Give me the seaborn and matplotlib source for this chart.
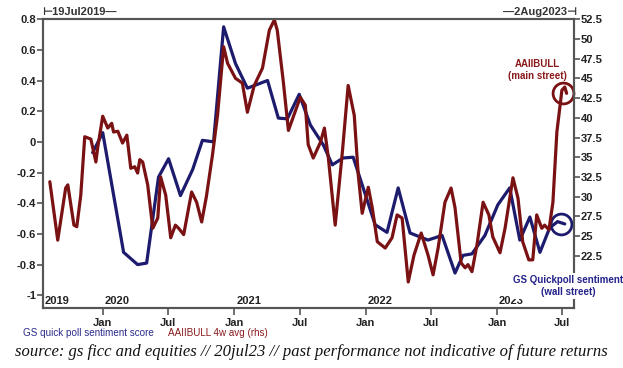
import numpy as np
import pandas as pd
import seaborn as sns
import matplotlib.pyplot as plt
import matplotlib.dates as mdates
import matplotlib.transforms as mtransforms

# GS quick poll sentiment score (lhs)
gs_dates = ['2019-12-04', '2020-01-01', '2020-02-28', '2020-04-07', '2020-05-02', '2020-06-04',
            '2020-07-02', '2020-08-04', '2020-09-07', '2020-10-04', '2020-11-04', '2020-12-02',
            '2021-01-04', '2021-02-06', '2021-04-03', '2021-05-03', '2021-05-28', '2021-06-30',
            '2021-07-31', '2021-09-05', '2021-09-30', '2021-10-30', '2021-11-27', '2022-01-27',
            '2022-03-01', '2022-04-01', '2022-05-04', '2022-06-23', '2022-08-01', '2022-09-06',
            '2022-09-28', '2022-10-23', '2022-11-28', '2023-01-03', '2023-02-05', '2023-03-05',
            '2023-04-02', '2023-04-30', '2023-05-27', '2023-06-18', '2023-07-08']
gs_score = [-0.07, 0.06, -0.72, -0.80, -0.79, -0.23,
            -0.11, -0.35, -0.18, 0.01, 0.00, 0.75,
            0.51, 0.35, 0.40, 0.155, 0.15, 0.31,
            0.11, -0.02, -0.15, -0.105, -0.10, -0.54,
            -0.59, -0.30, -0.594, -0.64, -0.61, -0.855,
            -0.74, -0.73, -0.61, -0.41, -0.30, -0.64,
            -0.49, -0.72, -0.56, -0.52, -0.535]

# AAIIBULL 4w avg (rhs)
aaii_dates = ['2019-08-07', '2019-08-29', '2019-09-20', '2019-09-26', '2019-10-13', '2019-10-21',
              '2019-11-01', '2019-11-12', '2019-11-29', '2019-12-13', '2019-12-18', '2020-01-01',
              '2020-01-15', '2020-01-26', '2020-01-31', '2020-02-12', '2020-02-25', '2020-03-08',
              '2020-03-19', '2020-03-30', '2020-04-07', '2020-04-13', '2020-04-21', '2020-05-05',
              '2020-05-19', '2020-06-02', '2020-06-10', '2020-06-24', '2020-07-08', '2020-07-21',
              '2020-07-30', '2020-08-13', '2020-09-04', '2020-09-18', '2020-10-02', '2020-10-15',
              '2020-11-01', '2020-11-15', '2020-12-02', '2020-12-13', '2021-01-04', '2021-01-23',
              '2021-02-06', '2021-02-25', '2021-03-20', '2021-04-08', '2021-04-22', '2021-04-30',
              '2021-05-17', '2021-05-31', '2021-06-22', '2021-07-03', '2021-07-17', '2021-07-25',
              '2021-08-08', '2021-08-28', '2021-09-08', '2021-09-19', '2021-10-08', '2021-10-28',
              '2021-11-13', '2021-11-30', '2021-12-11', '2021-12-22', '2022-01-08', '2022-01-19',
              '2022-02-02', '2022-02-24', '2022-03-15', '2022-03-29', '2022-04-12', '2022-04-29',
              '2022-05-15', '2022-06-04', '2022-06-23', '2022-07-07', '2022-07-21', '2022-08-09',
              '2022-08-26', '2022-09-06', '2022-09-23', '2022-10-04', '2022-10-12', '2022-10-23',
              '2022-11-06', '2022-11-23', '2022-12-09', '2022-12-20', '2023-01-09', '2023-01-23',
              '2023-02-14', '2023-02-28', '2023-03-13', '2023-03-30', '2023-04-10', '2023-04-21',
              '2023-05-05', '2023-05-13', '2023-05-25', '2023-06-05', '2023-06-16', '2023-06-30',
              '2023-07-08', '2023-07-13']
aaii_bull = [31.9, 24.5, 31.1, 31.5, 26.4, 26.2,
             30.2, 37.6, 37.3, 34.4, 36.2, 40.2,
             38.7, 39.3, 38.2, 38.3, 36.8, 37.8,
             33.6, 33.8, 33.0, 34.7, 34.4, 31.5,
             26.0, 27.3, 32.5, 30.2, 24.8, 26.4,
             26.0, 25.2, 30.6, 29.3, 26.8, 30.0,
             35.3, 40.3, 49.0, 46.9, 45.0, 44.4,
             40.7, 44.1, 46.3, 51.1, 52.4, 51.1,
             44.5, 38.4, 41.2, 42.6, 41.6, 36.6,
             34.9, 36.9, 38.7, 34.9, 26.4, 35.7,
             44.1, 40.3, 32.8, 27.9, 31.2, 28.6,
             24.3, 23.5, 24.8, 27.7, 27.3, 19.2,
             22.6, 25.4, 22.6, 20.1, 23.5, 29.3,
             31.1, 28.6, 21.6, 21.0, 21.4, 20.5,
             23.9, 29.3, 27.7, 24.9, 22.9, 26.0,
             32.4, 29.8, 24.3, 22.0, 22.0, 27.7,
             26.0, 26.4, 25.8, 29.3, 38.2, 43.5,
             43.9, 43.1]

left_ticks = [-1, -0.8, -0.6, -0.4, -0.2, 0, 0.2, 0.4, 0.6, 0.8]
right_ticks = [22.5, 25, 27.5, 30, 32.5, 35, 37.5, 40, 42.5, 45, 47.5, 50, 52.5]
year_labels = ['2019', '2020', '2021', '2022', '2023']

BLUE = '#1c1b6e'
RED = '#7a1214'
FONT = ['Liberation Sans', 'DejaVu Sans']

gs = pd.DataFrame({'date': pd.to_datetime(gs_dates), 'score': gs_score})
aaii = pd.DataFrame({'date': pd.to_datetime(aaii_dates), 'bull': aaii_bull})

sns.set_theme(style='white')
plt.rcParams['font.family'] = FONT

fig = plt.figure(figsize=(6.23, 3.68), dpi=100)
ax = fig.add_axes([0.069, 0.163, 0.852, 0.785])
ax2 = ax.twinx()

sns.lineplot(data=gs, x='date', y='score', ax=ax, color=BLUE, linewidth=2.3)
sns.lineplot(data=aaii, x='date', y='bull', ax=ax2, color=RED, linewidth=2.3)

x0, x1 = pd.Timestamp('2019-07-19'), pd.Timestamp('2023-08-02')
ax.set_xlim(x0, x1)
ax.set_ylim(-1.083, 0.8)
ax2.set_ylim(15.9, 52.5)

for a in (ax, ax2):
    a.set_xlabel('')
    a.set_ylabel('')
    for s in a.spines.values():
        s.set_color('#555555')
        s.set_linewidth(1.5)

ax.set_yticks(left_ticks)
ax.set_yticklabels([f'{t:g}' for t in left_ticks])
ax2.set_yticks(right_ticks)
ax2.set_yticklabels([f'{t:g}' for t in right_ticks])
ax.tick_params(axis='y', left=True, length=4, width=1.2, color='#555555', pad=1,
               labelsize=8, labelcolor='#222222')
ax2.tick_params(axis='y', right=True, length=4, width=1.2, color='#555555', pad=1,
                labelsize=8, labelcolor='#222222')
for lab in ax.get_yticklabels() + ax2.get_yticklabels():
    lab.set_fontweight('bold')

ax.xaxis.set_major_locator(mdates.MonthLocator(bymonth=[1, 7]))
ax.xaxis.set_major_formatter(mdates.DateFormatter('%b'))
ax.tick_params(axis='x', bottom=True, length=5, width=1.2, color='#555555', pad=2,
               labelsize=8, labelcolor='#222222')
for lab in ax.get_xticklabels():
    lab.set_fontweight('bold')

# year labels sitting inside the plot above the bottom axis
trans = mtransforms.blended_transform_factory(ax.transData, ax.transAxes)
for yl in year_labels:
    xpos = max(pd.Timestamp(f'{yl}-01-01'), x0) + pd.Timedelta(days=5)
    ax.text(xpos, 0.008, yl, transform=trans, ha='left', va='bottom',
            fontsize=8, fontweight='bold', color='#222222')

# circles on latest readings
ax2.plot(aaii['date'].iloc[-1] - pd.Timedelta(days=10), aaii['bull'].iloc[-1], marker='o',
         markersize=15, mfc='none', mec=RED, mew=2, clip_on=False)
ax.plot(gs['date'].iloc[-1] - pd.Timedelta(days=10), gs['score'].iloc[-1], marker='o',
        markersize=15, mfc='none', mec=BLUE, mew=2, clip_on=False)

fig.text(537 / 623, 1 - 70 / 368, 'AAIIBULL\n(main street)', ha='center', va='center',
         fontsize=7, fontweight='bold', color='#8a1a1c', linespacing=1.25)
fig.text(568 / 623, 1 - 286 / 368, 'GS Quickpoll sentiment\n(wall street)', ha='center',
         va='center', fontsize=7, fontweight='bold', color='#24238a', linespacing=1.25,
         bbox=dict(facecolor='white', edgecolor='none', pad=1.5), zorder=10)

fig.text(42 / 623, 1 - 12 / 368, '\u22a219Jul2019\u2014', ha='left', va='center',
         fontsize=8, fontweight='bold', color='#333333')
fig.text(577 / 623, 1 - 12 / 368, '\u20142Aug2023\u22a3', ha='right', va='center',
         fontsize=8, fontweight='bold', color='#333333')

fig.text(23 / 623, 1 - 333 / 368, 'GS quick poll sentiment score', ha='left', va='center',
         fontsize=7.1, color='#2a2a8c')
fig.text(168 / 623, 1 - 333 / 368, 'AAIIBULL 4w avg (rhs)', ha='left', va='center',
         fontsize=7.1, color='#8a1a1c')

fig.text(0.5, 1 - 352 / 368,
         'source: gs ficc and equities // 20jul23 // past performance not indicative of future returns',
         ha='center', va='center', fontsize=12, style='italic', family='Liberation Serif',
         color='#111111')

fig.savefig('out.png', dpi=100)
